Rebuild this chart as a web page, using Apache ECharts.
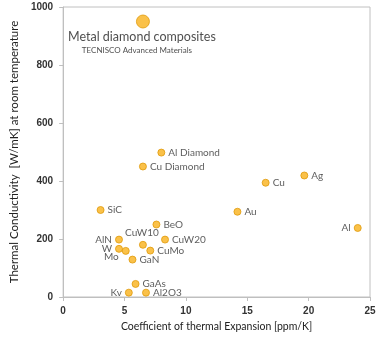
<!DOCTYPE html>
<html>
<head>
<meta charset="utf-8">
<script src="https://cdn.jsdelivr.net/npm/echarts@6/dist/echarts.min.js"></script>
<style>html,body{margin:0;padding:0;background:#fff;}#c{width:380px;height:343px;}</style>
</head>
<body>
<div id="c"></div>
<script>
var names = ['Al Diamond','Cu Diamond','SiC','BeO','AlN','CuW10','CuW20','W','Mo','CuMo','GaN','GaAs','Kv','Al2O3','Au','Cu','Ag','Al'];
var cte   = [8.0, 6.5, 3.05, 7.6, 4.55, 6.5, 8.3, 4.55, 5.1, 7.1, 5.65, 5.9, 5.35, 6.75, 14.2, 16.5, 19.65, 24.0];
var tc    = [498, 450, 300, 250, 198, 180, 198, 166, 159, 160, 129, 45, 15, 15, 294, 394, 419, 238];
var bigName = 'Metal diamond composites';
var bigSub = 'TECNISCO Advanced Materials';
var bigCte = [6.5];
var bigTc = [950];
var xTicks = [0, 5, 10, 15, 20, 25];
var yTicks = [0, 200, 400, 600, 800, 1000];

var leftLabels = { 'AlN': 1, 'W': 1, 'Kv': 1, 'Al': 1 };

var smallData = names.map(function (n, i) {
  var item = { name: n, value: [cte[i], tc[i]] };
  if (n === 'Mo') {
    item.label = { position: 'left', offset: [0, 6] };
  } else if (n === 'CuW10') {
    item.label = { position: 'top', offset: [-1, 0] };
  } else if (leftLabels[n]) {
    item.label = { position: 'left' };
  }
  return item;
});

var chart = echarts.init(document.getElementById('c'));
chart.setOption({
  animation: false,
  grid: { left: 52, right: 10, top: 7, bottom: 46, show: true, borderColor: '#c0c0c0', borderWidth: 1 },
  xAxis: {
    type: 'value', min: 0, max: 25, interval: 5,
    name: 'Coefficient of thermal Expansion [ppm/K]',
    nameLocation: 'middle', nameGap: 24,
    nameTextStyle: { fontFamily: 'Lato', fontSize: 10.5, color: '#222' },
    axisLine: { show: true, lineStyle: { color: '#bfbfbf' } },
    axisTick: { show: true, length: 4, lineStyle: { color: '#bfbfbf' } },
    axisLabel: { fontFamily: 'Liberation Sans', fontWeight: 'bold', fontSize: 10, color: '#333', margin: 9,
      formatter: function (v) { return xTicks.indexOf(v) >= 0 ? String(v) : ''; } },
    splitLine: { show: false }
  },
  yAxis: {
    type: 'value', min: 0, max: 1000, interval: 200,
    name: 'Thermal Conductivity  [W/mK] at room temperature',
    nameLocation: 'middle', nameGap: 31,
    nameTextStyle: { fontFamily: 'Lato', fontSize: 11.5, color: '#222' },
    axisLine: { show: true, lineStyle: { color: '#bfbfbf' } },
    axisTick: { show: true, length: 4, lineStyle: { color: '#bfbfbf' } },
    axisLabel: { fontFamily: 'Liberation Sans', fontWeight: 'bold', fontSize: 10, color: '#333', margin: 10,
      formatter: function (v) { return yTicks.indexOf(v) >= 0 ? String(v) : ''; } },
    splitLine: { show: false }
  },
  series: [
    {
      type: 'scatter', symbolSize: 7,
      itemStyle: { color: '#F9B21B', borderColor: '#E09A0A', borderWidth: 1 },
      label: { show: true, position: 'right', distance: 3, formatter: '{b}', fontFamily: 'Lato', fontSize: 10, color: '#333' },
      data: smallData
    },
    {
      type: 'scatter', symbolSize: 13,
      itemStyle: { color: '#F9B21B', borderColor: '#E09A0A', borderWidth: 1 },
      label: {
        show: true, position: 'bottom', distance: 1, offset: [-1, 0],
        formatter: '{a|' + bigName + '}\n{b|' + bigSub + '}',
        rich: {
          a: { fontFamily: 'Lato', fontSize: 12.5, color: '#222', lineHeight: 15 },
          b: { fontFamily: 'Lato', fontSize: 8, color: '#222', lineHeight: 11, padding: [0, 10, 0, 0] }
        }
      },
      data: bigCte.map(function (v, i) { return { name: bigName, value: [v, bigTc[i]] }; })
    }
  ]
});
</script>
</body>
</html>
